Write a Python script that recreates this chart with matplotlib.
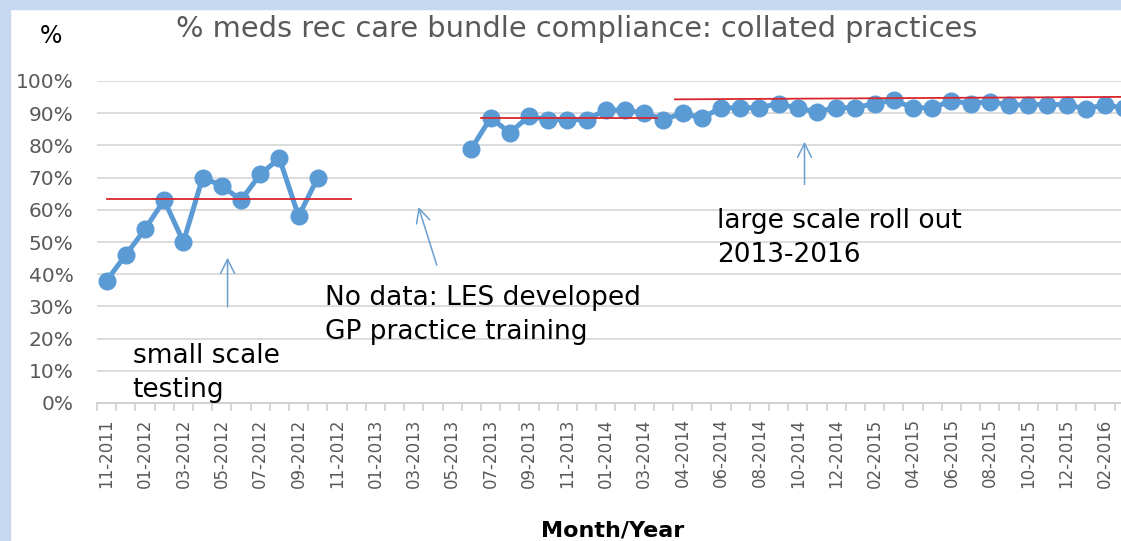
import matplotlib
matplotlib.use("Agg")
import matplotlib.pyplot as plt
from matplotlib.patches import Rectangle
import numpy as np

# ---------------- data ----------------
months = (["11-2011", "12-2011"]
          + [f"{m:02d}-2012" for m in range(1, 13)]
          + [f"{m:02d}-2013" for m in range(1, 13)]
          + ["01-2014", "02-2014", "03-2014", "03-2014"]
          + [f"{m:02d}-2014" for m in range(4, 13)]
          + [f"{m:02d}-2015" for m in range(1, 13)]
          + ["01-2016", "02-2016", "03-2016"])

# small scale testing phase (11-2011 .. 10-2012)
phase1_values = [38, 46, 54, 63, 50, 70, 67.5, 63, 71, 76, 58, 70]
phase1_start = 0

# after training (06-2013 onwards)
phase2_values = [79, 88.5, 84, 89, 88, 88, 88, 91, 91, 90, 88, 90, 88.5,
                 91.7, 91.7, 91.7, 93, 91.5, 90.5, 91.7, 91.7, 93, 94,
                 91.7, 91.7, 93.8, 93, 93.6, 92.5, 92.7, 92.7, 92.7, 91.3,
                 92.7, 91.5]
phase2_start = 19

median_small = 63.4
median_mid = 88.6
median_large = 94.6

title = "% meds rec care bundle compliance: collated practices"
xlabel = "Month/Year"
ylabel = "%"
notes = ["small scale\ntesting", "No data: LES developed\nGP practice training",
         "large scale roll out\n2013-2016"]

# ---------------- figure ----------------
W, H = 1121, 541
plt.rcParams["font.family"] = ["DejaVu Sans"]
fig = plt.figure(figsize=(W / 100, H / 100), dpi=100, facecolor="white")

blue_bg = "#c6d9f1"
fig.patches.append(Rectangle((0, 0), 10 / W, 1, transform=fig.transFigure,
                             color=blue_bg, zorder=0))
fig.patches.append(Rectangle((0, 1 - 9 / H), 1, 9 / H, transform=fig.transFigure,
                             color=blue_bg, zorder=0))

N = len(months)
slot = 19.2
left_px = 97
ax_w = N * slot
y0_px, y100_px = 403, 81
ax = fig.add_axes([left_px / W, (H - y0_px) / H, ax_w / W, (y0_px - y100_px) / H])
ax.set_facecolor("none")
ax.set_xlim(-0.5, N - 0.5)
ax.set_ylim(0, 100)

line_col = "#5b9bd5"
x1 = np.arange(phase1_start, phase1_start + len(phase1_values))
x2 = np.arange(phase2_start, phase2_start + len(phase2_values))
for xs, ys in ((x1, phase1_values), (x2, phase2_values)):
    ax.plot(xs, ys, color=line_col, lw=3.6, marker="o", ms=12,
            markerfacecolor=line_col, markeredgecolor=line_col, zorder=3,
            solid_joinstyle="round")

red = "#d8262c"
ax.plot([0, 12.75], [median_small] * 2, color=red, lw=1.3, zorder=4)
ax.plot([19.5, 28.65], [median_mid] * 2, color=red, lw=1.3, zorder=4)
ax.plot([29.6, N], [median_large - 0.3, median_large + 0.5], color=red, lw=1.3, zorder=4)

# grid / spines
ax.set_yticks(np.arange(0, 101, 10))
ax.set_yticklabels([f"{v}%" for v in range(0, 101, 10)])
ax.grid(axis="y", color="#d9d9d9", lw=1.3, zorder=0)
ax.set_axisbelow(True)
for s in ("top", "right", "left"):
    ax.spines[s].set_visible(False)
ax.spines["bottom"].set_color("#d0d0d0")
ax.spines["bottom"].set_linewidth(1.3)

ax.set_xticks(np.arange(0, N, 2))
ax.set_xticklabels(months[::2], rotation=90)
ax.set_xticks(np.arange(-0.5, N, 1), minor=True)
ax.tick_params(axis="x", which="major", length=0, pad=11, labelsize=12,
               labelcolor="#595959")
ax.tick_params(axis="x", which="minor", length=6, color="#d0d0d0", width=1.2)
ax.tick_params(axis="y", length=0, pad=17, labelsize=14.5, labelcolor="#595959")

# titles
fig.text(577 / W, 1 - 37 / H, title, ha="center", va="baseline",
         fontsize=20.8, color="#595959")
fig.text(40 / W, 1 - 43 / H, ylabel, ha="left", va="baseline",
         fontsize=17, color="black")
fig.text(613 / W, 1 - 537 / H, xlabel, ha="center", va="baseline",
         fontsize=16, fontweight="bold", color="black")

# annotations
tkw = dict(fontsize=19, color="black", va="baseline", ha="left",
           linespacing=1.38, zorder=5)
ax.text(1.35, (403 - 397) / 3.22, notes[0], **tkw)
ax.text(11.4, (403 - 339) / 3.22, notes[1], **tkw)
ax.text(31.8, (403 - 262) / 3.22, notes[2], **tkw)

akw = dict(arrowstyle="->,head_length=1.0,head_width=0.5", color="#6a9fd0", lw=1.1)
ax.annotate("", xy=(6.3, 46), xytext=(6.3, 29), arrowprops=akw)
ax.annotate("", xy=(16.2, 61.7), xytext=(17.24, 42), arrowprops=akw)
ax.annotate("", xy=(36.35, 82), xytext=(36.35, 67), arrowprops=akw)

fig.savefig("out.png", dpi=100, facecolor="white")
